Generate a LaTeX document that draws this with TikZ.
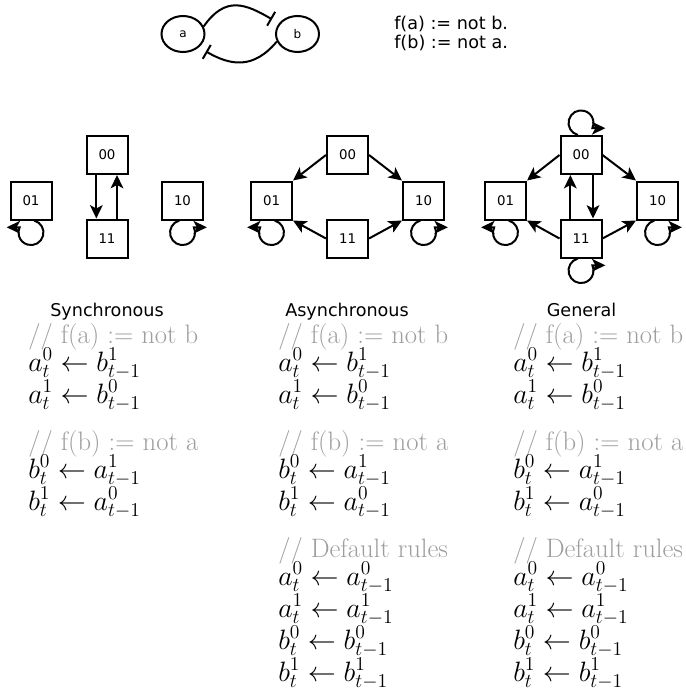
\RequirePackage{fix-cm}
\documentclass[tikz,border=0pt]{standalone}
\usepackage{fontspec}
\usepackage{amsmath}
\usepackage{tikz}
\usetikzlibrary{arrows.meta}
\usetikzlibrary{shapes.geometric}
\newfontfamily\dejavu{DejaVu Sans}
\tikzset{
  stbox/.style={shape=rectangle,draw,line width=1.5pt,minimum width=30.75pt,minimum height=28.5pt,inner sep=0pt,font=\dejavu\fontsize{10}{12}\selectfont},
  varnode/.style={shape=ellipse,draw,line width=1.5pt,minimum width=32.25pt,minimum height=27pt,inner sep=0pt,font=\dejavu\fontsize{9}{11}\selectfont},
  trans/.style={line width=1.5pt,-{Stealth[length=10pt,width=9.5pt,inset=2.5pt]}},
  inhib/.style={line width=1.5pt,-{Bar[width=12pt]},shorten >=6pt},
  heading/.style={anchor=base,inner sep=0pt,font=\dejavu\fontsize{13.2}{16}\selectfont},
  ruletext/.style={anchor=base west,inner sep=0pt,font=\fontsize{21}{25}\selectfont},
  cmttext/.style={anchor=base west,inner sep=0pt,font=\fontsize{20}{24}\selectfont,text=black!38},
}
\begin{document}
\begin{tikzpicture}[x=0.75pt,y=0.75pt]
    \useasboundingbox (0,0) rectangle (685,-692);
    % the two variables
    \node (a) at (183,-34) [varnode] {a};
    \node (b) at (297.5,-34) [varnode] {b};
    \draw[inhib] (a.20) to[out=55,in=150,looseness=1.3] (b.150);
    \draw[inhib] (b.200) to[out=-130,in=-30,looseness=1.2] (a.-40);
    \node (fa) at (394,-30) [heading,anchor=base west] {f(a) := not b.};
    \node (fb) at (394,-49) [heading,anchor=base west] {f(b) := not a.};

    % synchronous
    \node (sy00) at (107,-155) [stbox] {00};
    \node (sy01) at (31,-200.5) [stbox] {01};
    \node (sy10) at (182.5,-200.5) [stbox] {10};
    \node (sy11) at (107,-238.5) [stbox] {11};
    \draw[trans] ([xshift=-8pt]sy00.south) -- ([xshift=-8pt]sy11.north);
    \draw[trans] ([xshift=7.5pt]sy11.north) -- ([xshift=7.5pt]sy00.south);
    \draw[trans] (sy01.south) ++(3.2,0) arc[start angle=75,end angle=-205,radius=12.5] -- ++(-13,0);
    \draw[trans] (sy10.south) ++(-3.2,0) arc[start angle=105,end angle=385,radius=12.5] -- ++(13,0);

    % asynchronous
    \node (as00) at (347.5,-155) [stbox] {00};
    \node (as01) at (271.5,-200.5) [stbox] {01};
    \node (as10) at (423.5,-200.5) [stbox] {10};
    \node (as11) at (347.5,-238.5) [stbox] {11};
    \draw[trans] (as00.west) -- (as01.north east);
    \draw[trans] (as00.east) -- (as10.north west);
    \draw[trans] (as11.west) -- (as01.south east);
    \draw[trans] (as11.east) -- (as10.south west);
    \draw[trans] (as01.south) ++(3.2,0) arc[start angle=75,end angle=-205,radius=12.5] -- ++(-13,0);
    \draw[trans] (as10.south) ++(-3.2,0) arc[start angle=105,end angle=385,radius=12.5] -- ++(13,0);

    % general
    \node (ge00) at (581,-155) [stbox] {00};
    \node (ge01) at (505.5,-200.5) [stbox] {01};
    \node (ge10) at (657.5,-200.5) [stbox] {10};
    \node (ge11) at (581,-238.5) [stbox] {11};
    \draw[trans] (ge00.west) -- (ge01.north east);
    \draw[trans] (ge00.east) -- (ge10.north west);
    \draw[trans] (ge11.west) -- (ge01.south east);
    \draw[trans] (ge11.east) -- (ge10.south west);
    \draw[trans] ([xshift=-8pt]ge11.north) -- ([xshift=-8pt]ge00.south);
    \draw[trans] ([xshift=9pt]ge00.south) -- ([xshift=9pt]ge11.north);
    \draw[trans] (ge00.north) ++(-3.2,0) arc[start angle=-105,end angle=-385,radius=12.5] -- ++(13,0);
    \draw[trans] (ge11.south) ++(-3.2,0) arc[start angle=105,end angle=385,radius=12.5] -- ++(13,0);
    \draw[trans] (ge01.south) ++(3.2,0) arc[start angle=75,end angle=-205,radius=12.5] -- ++(-13,0);
    \draw[trans] (ge10.south) ++(-3.2,0) arc[start angle=105,end angle=385,radius=12.5] -- ++(13,0);

    \node (sy-title) at (107,-316) [heading] {Synchronous};
    \node (as-title) at (347,-316) [heading] {Asynchronous};
    \node (ge-title) at (581.5,-316) [heading] {General};

    \foreach \x/\c in {28/sy,278/as,513/ge} % rules from f(a) and f(b)
    {
	\node (\c-fa) at (\x,-343) [cmttext] {// f(a) := not b};
	\node (\c-a0) at (\x,-371) [ruletext] {$a^0_t \leftarrow b^1_{t-1}$};
	\node (\c-a1) at (\x,-403) [ruletext] {$a^1_t \leftarrow b^0_{t-1}$};
	\node (\c-fb) at (\x,-450) [cmttext] {// f(b) := not a};
	\node (\c-b0) at (\x,-478) [ruletext] {$b^0_t \leftarrow a^1_{t-1}$};
	\node (\c-b1) at (\x,-510) [ruletext] {$b^1_t \leftarrow a^0_{t-1}$};
    }
    \foreach \x/\c in {278/as,513/ge} % default rules
    {
	\node (\c-def) at (\x,-557) [cmttext] {// Default rules};
	\node (\c-da0) at (\x,-585) [ruletext] {$a^0_t \leftarrow a^0_{t-1}$};
	\node (\c-da1) at (\x,-617) [ruletext] {$a^1_t \leftarrow a^1_{t-1}$};
	\node (\c-db0) at (\x,-649) [ruletext] {$b^0_t \leftarrow b^0_{t-1}$};
	\node (\c-db1) at (\x,-681) [ruletext] {$b^1_t \leftarrow b^1_{t-1}$};
    }
\end{tikzpicture}
\end{document}
